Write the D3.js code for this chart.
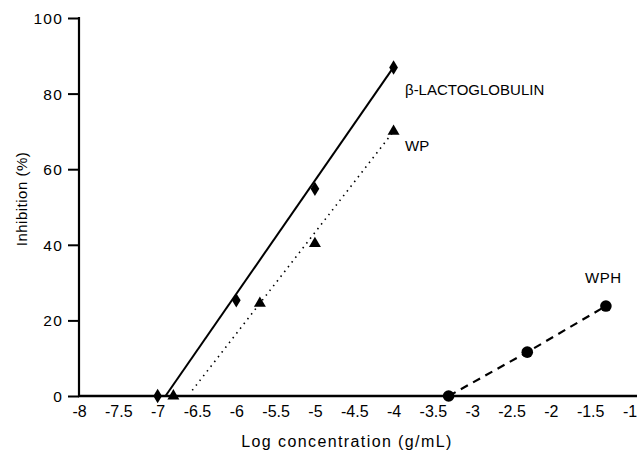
<!DOCTYPE html>
<html><head><meta charset="utf-8">
<script src="https://cdn.jsdelivr.net/npm/d3@7"></script>
<style>
html,body{margin:0;padding:0;background:#fff;}
text{font-family:"Liberation Sans",Arial,Helvetica,sans-serif;fill:#000;}
</style></head>
<body>
<svg id="c" width="637" height="452"></svg>
<script>
// Data
const xTicks = [-8,-7.5,-7,-6.5,-6,-5.5,-5,-4.5,-4,-3.5,-3,-2.5,-2,-1.5,-1];
const yTicks = [0,20,40,60,80,100];
const betaX = [-7,-6,-5,-4];
const betaY = [0,25.3,54.8,86.9];
const betaFitX = [-6.9,-4];
const betaFitY = [0,87];
const wpX = [-6.8,-5.7,-5,-4];
const wpY = [0,24.5,40.3,70];
const wpFitX = [-6.56,-4];
const wpFitY = [1.5,70];
const wphX = [-3.3,-2.3,-1.3];
const wphY = [0,11.6,23.8];
const seriesLabels = ["β-LACTOGLOBULIN","WP","WPH"];

const svg = d3.select("#c");
const x = d3.scaleLinear().domain([-8,-1]).range([79,629.5]);
const y = d3.scaleLinear().domain([0,100]).range([396,18]);

// axes
const yAxis = d3.axisLeft(y).tickValues(yTicks).tickSize(11).tickPadding(5).tickFormat(d3.format("d"));
const gy = svg.append("g").attr("transform","translate(79,0)").call(yAxis);
gy.select(".domain").remove();
gy.selectAll(".tick line").attr("stroke","#000").attr("stroke-width",2);
gy.selectAll(".tick text").attr("font-size",15.5).attr("letter-spacing","1.2px").attr("dy","0.35em");

const xAxis = d3.axisBottom(x).tickValues(xTicks).tickSize(0).tickPadding(10)
  .tickFormat(d => String(d));
const gx = svg.append("g").attr("transform","translate(0,396)").call(xAxis);
gx.select(".domain").remove();
gx.selectAll(".tick text").attr("font-size",16).attr("dy","0.71em");

// axis lines
svg.append("line").attr("x1",x(-8)).attr("x2",x(-8)).attr("y1",y(100)-1).attr("y2",y(0))
  .attr("stroke","#000").attr("stroke-width",2.2);
svg.append("line").attr("x1",x(-8)-1).attr("x2",637).attr("y1",y(0)).attr("y2",y(0))
  .attr("stroke","#000").attr("stroke-width",2.6);

// axis titles
svg.append("text").attr("x",347).attr("y",447).attr("text-anchor","middle").attr("font-size",16)
  .attr("letter-spacing","1.4px").text("Log concentration (g/mL)");
svg.append("text").attr("transform","translate(27,199) rotate(-90)").attr("text-anchor","middle")
  .attr("font-size",15).attr("letter-spacing","0.5px").text("Inhibition (%)");

const line = d3.line().x(d=>x(d[0])).y(d=>y(d[1]));
const z = (a,b)=>a.map((v,i)=>[v,b[i]]);

// fit lines
svg.append("path").attr("d",line(z(betaFitX,betaFitY))).attr("fill","none")
  .attr("stroke","#000").attr("stroke-width",2);
svg.append("path").attr("d",line(z(wpFitX,wpFitY))).attr("fill","none")
  .attr("stroke","#000").attr("stroke-width",1.6).attr("stroke-dasharray","1.5,4.5");
svg.append("path").attr("d",line(z(wphX,wphY))).attr("fill","none")
  .attr("stroke","#000").attr("stroke-width",2.2).attr("stroke-dasharray","8,6");

// markers
svg.selectAll(".dia").data(z(betaX,betaY)).enter().append("path")
  .attr("d",d3.symbol(d3.symbolDiamond,60)())
  .attr("transform",d=>`translate(${x(d[0])},${y(d[1])}) scale(1.05,1)`).attr("fill","#000");
svg.selectAll(".tri").data(z(wpX,wpY)).enter().append("path")
  .attr("d",d3.symbol(d3.symbolTriangle,62)())
  .attr("transform",d=>`translate(${x(d[0])},${y(d[1])})`).attr("fill","#000");
svg.selectAll(".cir").data(z(wphX,wphY)).enter().append("circle")
  .attr("cx",d=>x(d[0])).attr("cy",d=>y(d[1])).attr("r",5.8).attr("fill","#000");

// labels
svg.append("text").attr("x",405).attr("y",95).attr("font-size",15).text(seriesLabels[0]);
svg.append("text").attr("x",405).attr("y",151).attr("font-size",15).text(seriesLabels[1]);
svg.append("text").attr("x",585).attr("y",283).attr("font-size",15).attr("letter-spacing","0.5px").text(seriesLabels[2]);
</script>
</body></html>
